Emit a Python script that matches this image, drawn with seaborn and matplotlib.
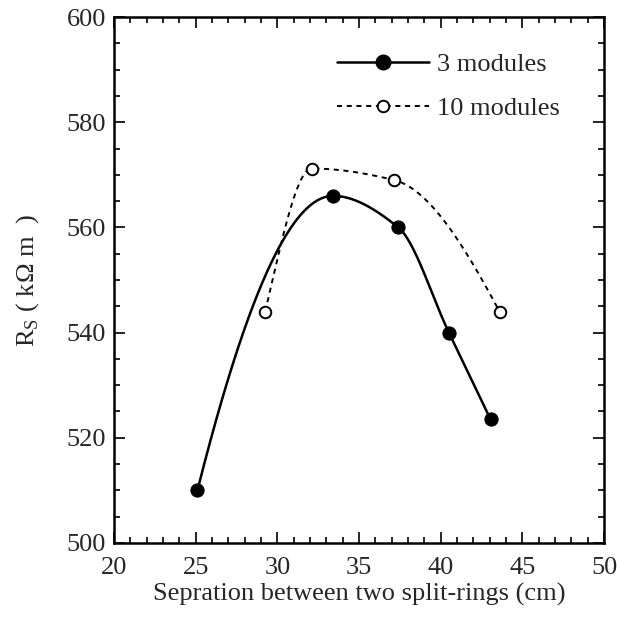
import numpy as np
import pandas as pd
import matplotlib
matplotlib.use("Agg")
import matplotlib.pyplot as plt
from matplotlib.lines import Line2D
import seaborn as sns

# values
sep_3 = [25.1, 33.4, 37.4, 40.5, 43.05]
rs_3 = [510.0, 566.0, 560.0, 540.0, 523.5]
sep_10 = [29.25, 32.1, 37.15, 43.6]
rs_10 = [544.0, 571.2, 569.0, 544.0]
series_names = ["3 modules", "10 modules"]


def smooth(x, y, n=300):
    # monotone cubic (Fritsch-Carlson), only for drawing the curve between points
    x = np.asarray(x, float)
    y = np.asarray(y, float)
    h = np.diff(x)
    d = np.diff(y) / h
    k = len(x)
    m = np.zeros(k)
    for i in range(1, k - 1):
        if d[i - 1] * d[i] > 0:
            w1 = 2 * h[i] + h[i - 1]
            w2 = h[i] + 2 * h[i - 1]
            m[i] = (w1 + w2) / (w1 / d[i - 1] + w2 / d[i])
    for j, (a, b, ha, hb) in enumerate([(d[0], d[1], h[0], h[1]),
                                        (d[-1], d[-2], h[-1], h[-2])]):
        s = ((2 * ha + hb) * a - ha * b) / (ha + hb)
        if s * a <= 0:
            s = 0
        elif a * b < 0 and abs(s) > 3 * abs(a):
            s = 3 * a
        m[0 if j == 0 else -1] = s
    xs = np.linspace(x[0], x[-1], n)
    idx = np.clip(np.searchsorted(x, xs) - 1, 0, k - 2)
    t = (xs - x[idx]) / h[idx]
    h00 = 2 * t ** 3 - 3 * t ** 2 + 1
    h10 = t ** 3 - 2 * t ** 2 + t
    h01 = -2 * t ** 3 + 3 * t ** 2
    h11 = t ** 3 - t ** 2
    ys = h00 * y[idx] + h10 * h[idx] * m[idx] + h01 * y[idx + 1] + h11 * h[idx] * m[idx + 1]
    return xs, ys


sns.set_theme(style="ticks")
plt.rcParams["font.family"] = ["Liberation Serif", "DejaVu Serif"]
plt.rcParams["mathtext.fontset"] = "custom"
plt.rcParams["mathtext.rm"] = "Liberation Serif"
fs = 19

fig = plt.figure(figsize=(6.17, 6.18), dpi=100)
ax = fig.add_axes([0.185, 0.1214, 0.794, 0.851])

xs3, ys3 = smooth(sep_3, rs_3)
xs10, ys10 = smooth(sep_10, rs_10)
curve3 = pd.DataFrame({"x": xs3, "y": ys3})
curve10 = pd.DataFrame({"x": xs10, "y": ys10})
pts3 = pd.DataFrame({"x": sep_3, "y": rs_3})

dash = (0, (2.6, 2.4))
sns.lineplot(data=curve3, x="x", y="y", ax=ax, color="black", lw=1.8, sort=False)
sns.lineplot(data=curve10, x="x", y="y", ax=ax, color="black", lw=1.4,
             sort=False, linestyle=dash)
sns.scatterplot(data=pts3, x="x", y="y", ax=ax, color="black", s=90,
                edgecolor="black", zorder=5)
ax.plot(sep_10, rs_10, linestyle="none", marker="o", ms=8.3, mfc="white",
        mec="black", mew=1.4, zorder=5)

ax.set_xlim(20, 50)
ax.set_ylim(500, 600)
ax.set_xticks(np.arange(20, 51, 5))
ax.set_yticks(np.arange(500, 601, 20))
ax.set_xticks(np.arange(20, 51, 1), minor=True)
ax.set_yticks(np.arange(500, 601, 5), minor=True)
ax.tick_params(which="both", direction="in", top=True, right=True,
               color="black", width=1.2, labelsize=fs)
ax.tick_params(axis="x", which="both", pad=10)
ax.tick_params(axis="y", which="both", pad=6)
ax.tick_params(which="major", length=8)
ax.tick_params(which="minor", length=4.5)
for sp in ax.spines.values():
    sp.set_linewidth(1.8)
    sp.set_color("black")

ax.set_xlabel("Sepration between two split-rings (cm)", fontsize=fs, labelpad=3)
ax.set_ylabel("R$_{\\rm S}$ ( kΩ m  )", fontsize=fs, labelpad=18)

handles = [
    Line2D([], [], color="black", lw=1.8, marker="o", ms=10.5),
    Line2D([], [], color="black", lw=1.4, linestyle=dash, marker="o",
           ms=8.3, mfc="white", mec="black", mew=1.4),
]
ax.legend(handles, series_names, loc="upper left", frameon=False,
          fontsize=fs, handlelength=3.5, handletextpad=0.3,
          labelspacing=0.78, borderaxespad=0, borderpad=0,
          bbox_to_anchor=(0.455, 0.932))

fig.savefig("out.png", dpi=100)
